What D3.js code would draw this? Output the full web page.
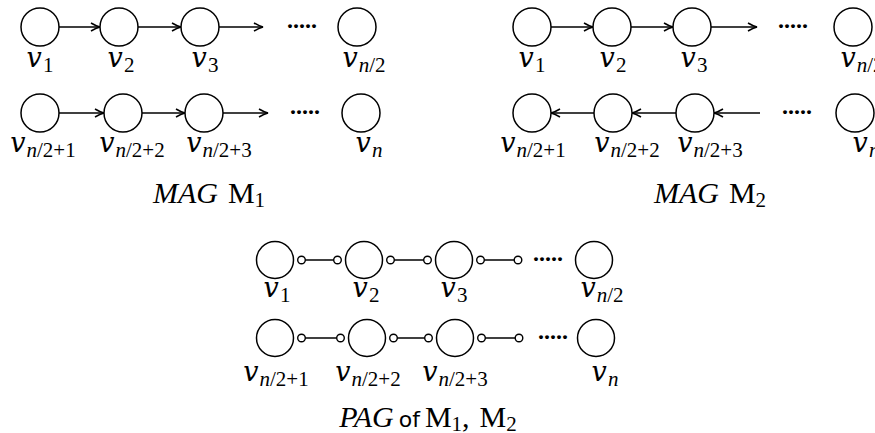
<!DOCTYPE html>
<html>
<head>
<meta charset="utf-8">
<script src="https://cdn.jsdelivr.net/npm/d3@7"></script>
<style>
  body { margin: 0; background: #fff; }
  text { fill: #000; }
</style>
</head>
<body>
<div id="chart"></div>
<script>
// node subscripts, one list per row: [italic part, upright part]
const topSubs = [['', '1'], ['', '2'], ['', '3'], ['n', '/2']];
const bottomSubs = [['n', '/2+1'], ['n', '/2+2'], ['n', '/2+3'], ['n', '']];

// which kind of edge each row uses, per panel
const panelNames = ['M1', 'M2', 'PAG'];
const edgeKinds = {
  M1: ['forward', 'forward'],
  M2: ['forward', 'backward'],
  PAG: ['circles', 'circles']
};
// title pieces: [text, style, gap before]
const titles = {
  M1: [['MAG', 'it'], ['M', 'cal', 10], ['1', 'sub']],
  M2: [['MAG', 'it'], ['M', 'cal', 10], ['2', 'sub']],
  PAG: [['PAG', 'it'], ['of', 'sans', 5], ['M', 'cal', 5], ['1', 'sub'], [',', 'rm'], ['M', 'cal', 10], ['2', 'sub']]
};

// layout (pixels)
const width = 875, height = 433;
const layout = {
  M1: {
    r: 19,
    rows: [
      { cy: 27, nodes: [40, 119, 200, 357], labels: [40, 121, 205, 364], base: 67, trail: 263, dots: 287 },
      { cy: 113, nodes: [40, 123, 204, 361], labels: [43, 132, 219, 369], base: 152, trail: 268, dots: 290 }
    ],
    title: { x: 209, y: 203 }
  },
  M2: {
    r: 19,
    rows: [
      { cy: 27, nodes: [532, 612, 692, 853], labels: [532, 613, 694, 862], base: 67, trail: 757, dots: 778 },
      { cy: 113, nodes: [532, 613, 695, 855], labels: [533, 627, 710, 866], base: 152, trail: 760, dots: 782 }
    ],
    title: { x: 710, y: 203 }
  },
  PAG: {
    r: 18.5,
    rows: [
      { cy: 260, nodes: [275, 364, 454, 594], labels: [277, 366, 454, 602], base: 297, trail: 518, dots: 533 },
      { cy: 338, nodes: [275, 367, 455, 596], labels: [276, 368, 455, 605], base: 381, trail: 519, dots: 538 }
    ],
    title: { x: 428, y: 427 }
  }
};

const svg = d3.select('#chart')
  .append('svg')
  .attr('width', width)
  .attr('height', height);

svg.append('defs')
  .append('marker')
  .attr('id', 'head')
  .attr('markerUnits', 'userSpaceOnUse')
  .attr('viewBox', '-10 -6 12 12')
  .attr('refX', 0)
  .attr('refY', 0)
  .attr('markerWidth', 12)
  .attr('markerHeight', 12)
  .attr('orient', 'auto')
  .append('path')
  .attr('d', 'M-9,-4 Q-4,-1 0,0 Q-4,1 -9,4')
  .attr('fill', 'none')
  .attr('stroke', '#000')
  .attr('stroke-width', 1.5);

panelNames.forEach(name => {
  const lay = layout[name];
  const g = svg.append('g').attr('id', name);

  lay.rows.forEach((row, ri) => {
    const subs = ri === 0 ? topSubs : bottomSubs;
    const kind = edgeKinds[name][ri];
    const x = i => row.nodes[i];

    // edges between neighbours 0-1, 1-2 and the trailing one from 2
    const edges = [0, 1, 2].map(i => ({
      x1: x(i) + lay.r,
      x2: i < 2 ? x(i + 1) - lay.r : row.trail
    }));

    if (kind === 'circles') {
      const gap = 8;
      edges.forEach((e, i) => {
        const a = e.x1 + gap;
        const b = i < 2 ? e.x2 - gap : e.x2;
        g.append('line')
          .attr('x1', a).attr('x2', b)
          .attr('y1', row.cy).attr('y2', row.cy)
          .attr('stroke', '#000').attr('stroke-width', 1.5);
        g.selectAll(null)
          .data([a, b])
          .enter()
          .append('circle')
          .attr('cx', d => d)
          .attr('cy', row.cy)
          .attr('r', 3.8)
          .attr('fill', '#fff')
          .attr('stroke', '#000')
          .attr('stroke-width', 1.4);
      });
    } else {
      g.selectAll(null)
        .data(edges)
        .enter()
        .append('line')
        .attr('x1', d => (kind === 'forward' ? d.x1 : d.x2))
        .attr('x2', d => (kind === 'forward' ? d.x2 : d.x1))
        .attr('y1', row.cy)
        .attr('y2', row.cy)
        .attr('stroke', '#000')
        .attr('stroke-width', 1.5)
        .attr('marker-end', 'url(#head)');
    }

    // nodes
    g.selectAll(null)
      .data(subs)
      .enter()
      .append('circle')
      .attr('cx', (d, i) => x(i))
      .attr('cy', row.cy)
      .attr('r', lay.r)
      .attr('fill', '#fff')
      .attr('stroke', '#000')
      .attr('stroke-width', 1.5);

    // dots between node 3 and the last one
    g.append('text')
      .attr('x', row.dots)
      .attr('y', row.cy + 1)
      .style('font-family', 'Liberation Serif')
      .style('font-size', '24px')
      .style('font-weight', 'bold')
      .text('.....');

    // labels
    const lab = g.selectAll(null)
      .data(subs)
      .enter()
      .append('text')
      .attr('x', (d, i) => row.labels[i])
      .attr('y', row.base)
      .attr('text-anchor', 'middle');
    lab.append('tspan')
      .style('font-family', 'DejaVu Serif')
      .style('font-style', 'italic')
      .style('font-size', '27px')
      .text('v');
    // subscript: first non-empty piece carries the drop
    lab.each(function (d) {
      const el = d3.select(this);
      let dropped = false;
      [[d[0], 'italic'], [d[1], 'normal']].forEach(([s, fs]) => {
        if (!s) return;
        const ts = el.append('tspan')
          .style('font-family', 'Liberation Serif')
          .style('font-style', fs)
          .style('font-size', '21px')
          .text(s);
        if (!dropped) { ts.attr('dy', 5).attr('dx', 1); dropped = true; }
      });
    });
  });

  // title
  const t = g.append('text')
    .attr('x', lay.title.x)
    .attr('y', lay.title.y)
    .attr('text-anchor', 'middle');
  let lowered = false;
  titles[name].forEach(([s, style, gap]) => {
    const ts = t.append('tspan').text(s);
    if (gap) ts.attr('dx', gap);
    if (style === 'sub') {
      ts.attr('dy', 4).style('font-family', 'Liberation Serif').style('font-size', '21px');
      lowered = true;
      return;
    }
    if (lowered) { ts.attr('dy', -4); lowered = false; }
    if (style === 'it') {
      ts.style('font-family', 'Liberation Serif').style('font-style', 'italic').style('font-size', '30px');
    } else if (style === 'sans') {
      ts.style('font-family', 'DejaVu Sans').style('font-size', '22px');
    } else {
      ts.style('font-family', 'Liberation Serif').style('font-size', '30px');
    }
  });
});
</script>
</body>
</html>
